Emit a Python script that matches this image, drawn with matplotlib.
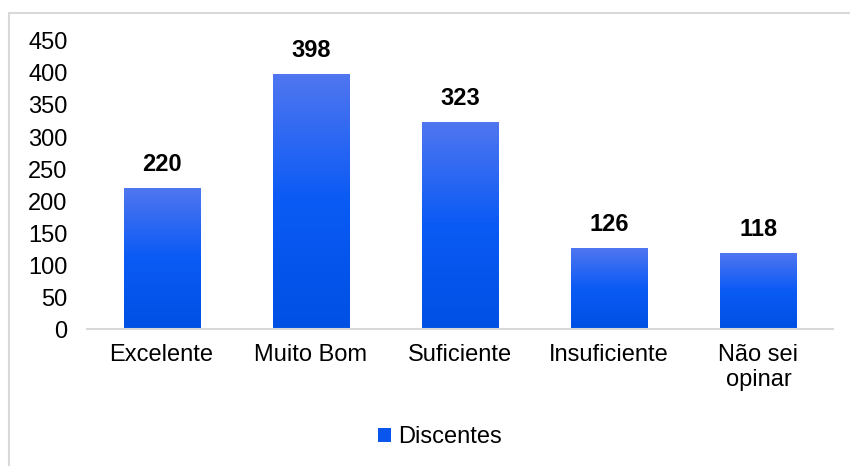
import numpy as np
import matplotlib
matplotlib.use("Agg")
import matplotlib.pyplot as plt
from matplotlib.colors import LinearSegmentedColormap
from matplotlib.patches import Patch, Rectangle

categories = ["Excelente", "Muito Bom", "Suficiente", "Insuficiente", "Não sei\nopinar"]
values = [220, 398, 323, 126, 118]
series_name = "Discentes"
yticks = [0, 50, 100, 150, 200, 250, 300, 350, 400, 450]

plt.rcParams['font.family'] = ['Liberation Sans', 'DejaVu Sans']
FS = 17

fig = plt.figure(figsize=(8.5, 4.66), dpi=100)
fig.patch.set_facecolor('white')
# outer border
fig.patches.append(Rectangle((9/850, -0.05), 1.0, (466-13)/466 + 0.05, transform=fig.transFigure,
                             fill=False, edgecolor='#d9d9d9', linewidth=1.5, zorder=0))

ax = fig.add_axes([87/850, (466-329)/466, (833-87)/850, (329-41)/466])
x = np.arange(len(categories))
width = 0.51
bars = ax.bar(x, values, width=width, color='none', edgecolor='none')

cmap = LinearSegmentedColormap.from_list('g', [(0.0, '#0050E4'), (0.5, '#0A5AF5'), (1.0, '#5076F0')])
grad = np.linspace(0, 1, 256).reshape(-1, 1)
for b in bars:
    x0, w, h = b.get_x(), b.get_width(), b.get_height()
    ax.imshow(grad, extent=(x0, x0 + w, 0, h), origin='lower', cmap=cmap, aspect='auto', zorder=2)
    ax.annotate(f"{int(h)}", (x0 + w/2, h), xytext=(0, 9), textcoords='offset points',
                ha='center', va='bottom', fontsize=FS, fontweight='bold', color='black')

ax.set_xlim(-0.5, len(categories) - 0.5)
ax.set_ylim(0, 450)
ax.set_yticks(yticks)
ax.set_xticks(x)
ax.set_xticklabels(categories, fontsize=FS, color='black', linespacing=1.15)
ax.tick_params(axis='y', length=0, pad=14, labelsize=FS, labelcolor='black')
ax.tick_params(axis='x', length=0, pad=11)
for s in ['left', 'right', 'top']:
    ax.spines[s].set_visible(False)
ax.spines['bottom'].set_color('#d9d9d9')
ax.spines['bottom'].set_linewidth(1.5)

handle = Patch(facecolor='#0A55EE', edgecolor='none')
fig.legend([handle], [series_name], loc='center', bbox_to_anchor=(440/850, (466-437)/466),
           frameon=False, fontsize=FS, handlelength=0.55, handleheight=0.55, handletextpad=0.3)

fig.savefig('out.png', dpi=100, facecolor='white')
